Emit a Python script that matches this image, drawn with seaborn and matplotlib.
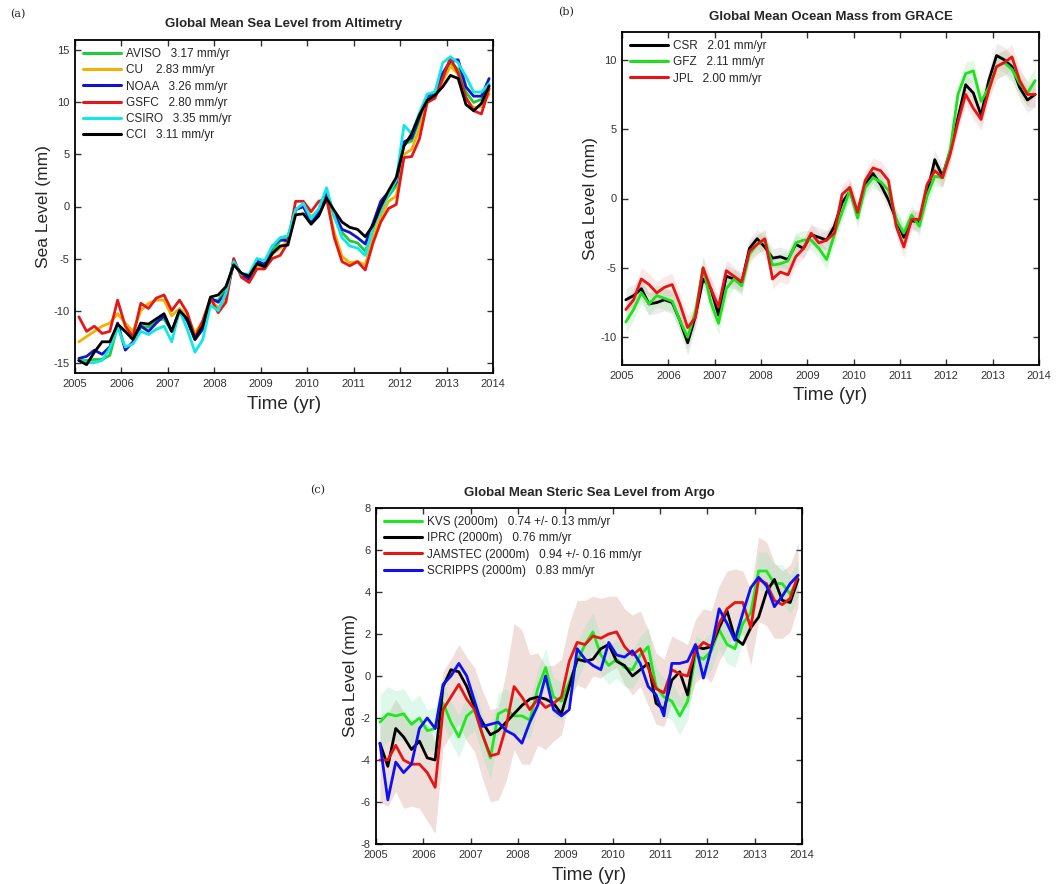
import numpy as np
import pandas as pd
import matplotlib
matplotlib.use("Agg")
import matplotlib.pyplot as plt
import seaborn as sns

# ---------------- DATA ----------------
# common time grid (decimal years, bi-monthly)
time = [2005.083, 2005.25, 2005.417, 2005.583, 2005.75, 2005.917,
        2006.083, 2006.25, 2006.417, 2006.583, 2006.75, 2006.917,
        2007.083, 2007.25, 2007.417, 2007.583, 2007.75, 2007.917,
        2008.083, 2008.25, 2008.417, 2008.583, 2008.75, 2008.917,
        2009.083, 2009.25, 2009.417, 2009.583, 2009.75, 2009.917,
        2010.083, 2010.25, 2010.417, 2010.583, 2010.75, 2010.917,
        2011.083, 2011.25, 2011.417, 2011.583, 2011.75, 2011.917,
        2012.083, 2012.25, 2012.417, 2012.583, 2012.75, 2012.917,
        2013.083, 2013.25, 2013.417, 2013.583, 2013.75, 2013.917]

# (a) altimetry GMSL (mm)
alt_labels = ["AVISO   3.17 mm/yr", "CU    2.83 mm/yr", "NOAA   3.26 mm/yr",
              "GSFC   2.80 mm/yr", "CSIRO   3.35 mm/yr", "CCI   3.11 mm/yr"]
aviso = [-14.8, -14.8, -14.7, -14.7, -14.3, -11.5, -12.0, -12.8, -11.5, -11.6, -11.0, -10.8,
         -12.0, -10.0, -10.8, -12.8, -11.5, -9.0, -9.0, -8.0, -5.4, -6.5, -6.8, -5.5,
         -5.5, -4.3, -3.3, -3.0, -0.3, 0.0, -1.3, -0.5, 1.3, -1.0, -2.5, -3.3,
         -3.5, -4.3, -2.2, 0.0, 1.0, 2.0, 6.0, 6.3, 8.3, 10.3, 10.8, 12.3,
         13.8, 13.2, 11.0, 10.0, 10.3, 11.5]
cu = [-13.0, -12.5, -12.0, -11.5, -11.2, -10.3, -11.2, -12.0, -10.0, -9.3, -9.0, -9.0,
      -10.5, -9.8, -10.5, -12.2, -11.0, -9.0, -9.7, -8.8, -5.3, -6.6, -7.0, -5.7,
      -5.7, -4.6, -4.0, -3.3, -0.3, 0.2, -1.0, -0.3, 0.8, -2.5, -4.8, -5.4,
      -5.3, -5.6, -3.0, -1.0, 0.5, 1.0, 5.0, 5.5, 7.5, 10.0, 10.6, 12.0,
      13.5, 12.7, 10.3, 9.5, 9.6, 10.8]
noaa = [-14.6, -14.4, -13.8, -14.2, -13.5, -11.2, -13.8, -13.0, -11.5, -12.0, -11.2, -10.5,
        -12.0, -10.0, -11.0, -12.8, -11.8, -8.8, -9.2, -8.3, -5.5, -6.5, -7.0, -5.2,
        -5.6, -3.8, -3.2, -3.3, -0.3, 0.0, -1.5, -0.6, 1.2, -0.7, -2.2, -2.5,
        -3.0, -3.6, -1.6, 0.5, 1.4, 2.3, 6.2, 6.6, 8.6, 10.6, 11.0, 12.8,
        14.0, 14.1, 11.5, 10.6, 10.6, 12.3]
gsfc = [-10.6, -12.0, -11.5, -12.2, -12.0, -9.0, -11.5, -12.5, -9.3, -9.8, -8.8, -8.5,
        -10.0, -9.0, -10.2, -12.6, -11.0, -8.8, -10.2, -9.2, -5.0, -6.8, -7.3, -6.0,
        -6.0, -5.0, -4.7, -3.5, 0.5, 0.5, -0.5, 0.5, 0.8, -3.0, -5.3, -5.7,
        -5.3, -6.1, -3.5, -1.5, -0.2, 0.2, 4.7, 4.8, 6.5, 10.0, 10.4, 12.3,
        14.3, 12.8, 10.5, 9.2, 8.9, 11.3]
csiro = [-14.8, -15.0, -15.0, -14.8, -13.6, -11.6, -13.5, -13.2, -12.0, -12.3, -11.8, -11.5,
         -13.0, -10.0, -11.8, -14.0, -12.8, -9.5, -10.0, -8.3, -5.3, -6.5, -6.5, -5.0,
         -5.2, -3.8, -3.0, -2.8, -0.3, 0.3, -1.2, -0.2, 1.8, -1.0, -3.0, -3.8,
         -4.0, -4.7, -2.0, -0.5, 1.2, 2.5, 7.8, 7.0, 9.0, 10.8, 11.0, 13.8,
         14.4, 13.8, 12.5, 11.0, 11.0, 11.8]
cci = [-14.8, -15.2, -14.0, -13.0, -13.0, -11.3, -12.0, -12.8, -11.2, -11.3, -10.8, -10.3,
       -12.0, -10.0, -10.8, -12.7, -11.5, -8.7, -8.5, -7.7, -5.6, -6.4, -6.7, -5.5,
       -5.8, -4.5, -3.8, -3.7, -0.8, -0.7, -1.7, -0.9, 0.8, -0.4, -1.5, -2.0,
       -2.2, -2.9, -1.8, 0.0, 1.5, 2.8, 5.8, 7.0, 8.8, 10.2, 10.7, 11.5,
       12.6, 12.3, 9.8, 9.2, 9.9, 11.6]

# (b) GRACE ocean mass (mm)
grace_labels = ["CSR   2.01 mm/yr", "GFZ   2.11 mm/yr", "JPL   2.00 mm/yr"]
csr = [-7.3, -7.0, -6.5, -7.6, -7.5, -7.3, -7.5, -8.8, -10.4, -8.5, -5.8, -6.5,
       -8.4, -5.6, -5.8, -6.1, -3.6, -2.9, -3.5, -4.3, -4.2, -4.4, -3.3, -3.6,
       -2.6, -2.8, -3.0, -2.0, -0.3, 0.5, -1.0, 1.0, 1.8, 1.0, -0.1, -1.5,
       -2.8, -1.6, -1.7, 0.3, 2.8, 1.6, 3.4, 5.8, 8.2, 7.6, 6.0, 8.5,
       10.3, 10.0, 9.5, 8.0, 7.1, 7.5]
gfz = [-8.9, -8.0, -6.8, -7.6, -7.0, -7.2, -7.4, -8.8, -10.0, -8.2, -5.0, -7.5,
       -9.0, -6.5, -5.8, -6.3, -4.0, -3.3, -3.0, -4.8, -4.7, -4.5, -3.2, -3.0,
       -3.0, -3.6, -4.4, -2.6, -1.0, 0.6, -1.4, 0.8, 1.5, 1.2, 0.6, -1.5,
       -2.5, -1.2, -2.0, 0.2, 1.6, 1.5, 3.5, 7.5, 9.0, 9.2, 7.0, 8.0,
       9.5, 9.8, 9.3, 8.3, 7.6, 8.5]
jpl = [-8.0, -7.3, -5.8, -6.2, -6.8, -6.4, -6.2, -7.6, -9.3, -8.6, -5.0, -6.5,
       -7.8, -5.2, -5.6, -6.0, -3.8, -3.3, -2.9, -5.8, -5.3, -5.5, -4.2, -3.6,
       -2.5, -3.2, -3.0, -2.5, 0.3, 0.8, -1.0, 1.3, 2.2, 2.0, 1.3, -2.0,
       -3.5, -1.5, -1.5, 1.0, 2.0, 1.5, 3.2, 5.5, 7.5, 6.5, 5.7, 7.8,
       9.5, 9.8, 10.2, 8.5, 7.5, 7.5]
grace_err = [0.8, 0.8, 0.8, 0.8, 0.8, 0.8, 0.8, 0.8, 0.9, 0.8, 0.8, 0.8,
             0.8, 0.8, 0.7, 0.7, 0.7, 0.7, 0.7, 0.7, 0.7, 0.7, 0.7, 0.7,
             0.7, 0.7, 0.7, 0.7, 0.7, 0.7, 0.7, 0.7, 0.7, 0.7, 0.7, 0.7,
             0.8, 0.7, 0.7, 0.7, 0.7, 0.7, 0.7, 0.7, 0.8, 0.8, 0.8, 0.8,
             0.9, 0.9, 0.9, 0.9, 0.9, 0.9]

# (c) Argo steric sea level (mm)
argo_labels = ["KVS (2000m)   0.74 +/- 0.13 mm/yr", "IPRC (2000m)   0.76 mm/yr",
               "JAMSTEC (2000m)   0.94 +/- 0.16 mm/yr", "SCRIPPS (2000m)   0.83 mm/yr"]
kvs = [-2.2, -1.8, -1.9, -1.8, -2.3, -2.0, -2.6, -2.5, -1.3, -2.2, -2.9, -1.9,
       -1.6, -2.8, -3.9, -1.8, -1.6, -1.9, -1.9, -2.1, -0.6, 0.4, -1.0, -1.2,
       -0.3, 0.7, 1.5, 2.1, 1.0, 0.5, 0.8, 0.4, 0.3, 1.0, 1.4, -0.5,
       -1.0, -1.2, -1.9, -1.2, 1.0, 0.8, 1.2, 2.2, 1.5, 1.3, 2.5, 3.0,
       5.0, 5.0, 4.4, 4.4, 3.9, 4.6]
iprc = [-3.2, -4.3, -2.5, -2.9, -3.5, -3.1, -3.9, -4.0, -0.5, 0.3, 0.2, -0.5,
        -1.5, -2.2, -2.8, -2.6, -2.2, -1.8, -1.4, -1.1, -1.0, -1.1, -1.3, -1.8,
        -0.5, 0.8, 0.7, 0.8, 1.3, 1.5, 0.7, 0.5, 0.0, 0.3, 0.6, -1.3,
        -1.6, -0.2, 0.2, -0.9, 1.4, 1.3, 1.4, 2.3, 3.1, 1.8, 1.5, 2.3,
        2.8, 4.0, 4.6, 3.6, 3.5, 4.6]
jamstec = [-4.0, -4.0, -3.3, -4.0, -4.2, -4.2, -4.6, -5.3, -1.6, -1.0, -0.4, -1.1,
           -1.6, -2.8, -3.8, -3.7, -2.4, -0.5, -1.0, -1.6, -1.1, -1.5, -1.3, -1.0,
           0.7, 1.6, 1.5, 1.9, 1.8, 2.0, 2.1, 1.4, 1.0, 1.3, 0.4, -0.6,
           -0.8, 0.3, 0.1, 0.0, 1.2, 1.6, 1.4, 2.5, 3.2, 3.5, 3.5, 2.3,
           4.6, 4.4, 3.6, 3.4, 3.7, 4.8]
scripps = [-3.2, -5.9, -4.1, -4.6, -4.2, -2.5, -2.0, -2.5, -0.4, 0.0, 0.6, 0.0,
           -1.2, -2.4, -2.3, -2.2, -2.6, -2.8, -3.2, -2.2, -1.4, 0.0, -1.6, -1.9,
           -1.6, 1.3, 0.8, 0.5, 0.3, 1.6, 1.0, 0.9, 1.2, 0.6, -0.5, -0.9,
           -1.9, 0.6, 0.6, 0.7, 1.5, -0.1, 1.3, 3.2, 2.5, 1.7, 3.0, 4.2,
           4.7, 4.3, 3.3, 3.8, 4.4, 4.8]
jamstec_err = [2.0, 2.2, 2.2, 2.3, 2.0, 2.1, 2.3, 2.2, 1.8, 1.8, 1.9, 2.0,
               2.0, 2.1, 2.2, 2.2, 2.6, 3.0, 3.2, 2.6, 2.2, 2.0, 1.8, 1.8,
               1.8, 2.0, 2.1, 1.9, 1.9, 1.8, 1.7, 1.8, 1.9, 1.8, 1.8, 1.7,
               1.6, 1.6, 1.6, 1.5, 1.5, 1.6, 1.7, 1.8, 1.8, 1.6, 1.5, 1.8,
               2.0, 2.0, 1.8, 1.6, 1.6, 1.5]
kvs_err = [1.3, 1.3, 1.2, 1.2, 1.1, 1.1, 1.0, 1.0, 1.0, 1.0, 1.0, 1.0,
           1.0, 1.0, 1.0, 1.0, 1.0, 0.9, 0.9, 0.9, 0.9, 0.9, 0.9, 0.9,
           0.9, 0.9, 0.9, 0.9, 0.9, 0.9, 0.9, 0.9, 0.9, 0.9, 0.9, 0.9,
           0.9, 0.9, 0.9, 0.9, 0.9, 0.9, 0.9, 0.9, 0.9, 0.9, 0.9, 0.9,
           0.9, 0.9, 0.9, 0.9, 0.9, 0.9]

year_ticks = [2005, 2006, 2007, 2008, 2009, 2010, 2011, 2012, 2013, 2014]

# ---------------- STYLE ----------------
sns.set_style("ticks")
plt.rcParams["font.family"] = ["Liberation Sans", "DejaVu Sans"]
plt.rcParams["axes.linewidth"] = 1.3
plt.rcParams["axes.unicode_minus"] = False

fig = plt.figure(figsize=(10.59, 8.84), dpi=100)
W, H = 1059, 884


def px_axes(l, t, r, b):
    return fig.add_axes([l / W, 1 - b / H, (r - l) / W, (b - t) / H])


def long_df(labels, series):
    rows = []
    for lab, s in zip(labels, series):
        rows.append(pd.DataFrame({"t": time, "v": s, "series": lab}))
    return pd.concat(rows, ignore_index=True)


def style_axes(ax, ylim, yticks, title, ylab):
    ax.set_xlim(2005, 2014)
    ax.set_ylim(*ylim)
    ax.set_xticks(year_ticks)
    ax.set_yticks(yticks)
    ax.tick_params(direction="in", top=True, right=True, length=4, width=1,
                   labelsize=8, colors="#333333", pad=4)
    for sp in ax.spines.values():
        sp.set_visible(True)
        sp.set_color("black")
    ax.set_title(title, fontsize=9.5, fontweight="bold", pad=9)
    ax.set_xlabel("Time (yr)", fontsize=13.5, labelpad=5)
    ax.set_ylabel(ylab, fontsize=12.5, labelpad=2)


def add_legend(ax, fontsize):
    leg = ax.legend(loc="upper left", frameon=False, fontsize=fontsize,
                    handlelength=3.2, handletextpad=0.4, labelspacing=0.35,
                    borderaxespad=0.3)
    for line in leg.get_lines():
        line.set_linewidth(2.2)


# ---------------- (a) ----------------
axa = px_axes(75, 40, 493, 373)
pal_a = ["#1fcc3a", "#f2b100", "#1515c8", "#e41818", "#10e8e8", "#000000"]
df_a = long_df(alt_labels, [aviso, cu, noaa, gsfc, csiro, cci])
sns.lineplot(data=df_a, x="t", y="v", hue="series", palette=pal_a,
             linewidth=2, ax=axa, sort=False)
style_axes(axa, (-16, 16), [-15, -10, -5, 0, 5, 10, 15],
           "Global Mean Sea Level from Altimetry", "Sea Level (mm)")
add_legend(axa, 8.5)
fig.text(10 / W, 1 - 14 / H, "(a)", fontsize=8, family="DejaVu Serif", va="center")

# ---------------- (b) ----------------
axb = px_axes(622, 32, 1039, 365)
pal_b = ["#000000", "#1ee01e", "#e81414"]
band_b = ["#999999", "#66dd66", "#ee8888"]
tt = np.array(time)
for s, c in zip([csr, gfz, jpl], band_b):
    s = np.array(s)
    e = np.array(grace_err)
    axb.fill_between(tt, s - e, s + e, color=c, alpha=0.18, linewidth=0)
df_b = long_df(grace_labels, [csr, gfz, jpl])
sns.lineplot(data=df_b, x="t", y="v", hue="series", palette=pal_b,
             linewidth=2, ax=axb, sort=False)
style_axes(axb, (-12, 12), [-10, -5, 0, 5, 10],
           "Global Mean Ocean Mass from GRACE", "Sea Level (mm)")
add_legend(axb, 8.5)
fig.text(558 / W, 1 - 12 / H, "(b)", fontsize=8, family="DejaVu Serif", va="center")

# ---------------- (c) ----------------
axc = px_axes(376, 508, 802, 844)
pal_c = ["#1ee81e", "#000000", "#e81414", "#1010f0"]
jm = np.array(jamstec)
je = np.array(jamstec_err)
axc.fill_between(tt, jm - je, jm + je, color="#c98a78", alpha=0.28, linewidth=0)
kv = np.array(kvs)
ke = np.array(kvs_err)
axc.fill_between(tt, kv - ke, kv + ke, color="#7fe8b0", alpha=0.25, linewidth=0)
df_c = long_df(argo_labels, [kvs, iprc, jamstec, scripps])
sns.lineplot(data=df_c, x="t", y="v", hue="series", palette=pal_c,
             linewidth=2, ax=axc, sort=False)
style_axes(axc, (-8, 8), [-8, -6, -4, -2, 0, 2, 4, 6, 8],
           "Global Mean Steric Sea Level from Argo", "Sea Level (mm)")
add_legend(axc, 8.5)
fig.text(310 / W, 1 - 490 / H, "(c)", fontsize=8, family="DejaVu Serif", va="center")

fig.savefig("out.png", dpi=100, facecolor="white")
